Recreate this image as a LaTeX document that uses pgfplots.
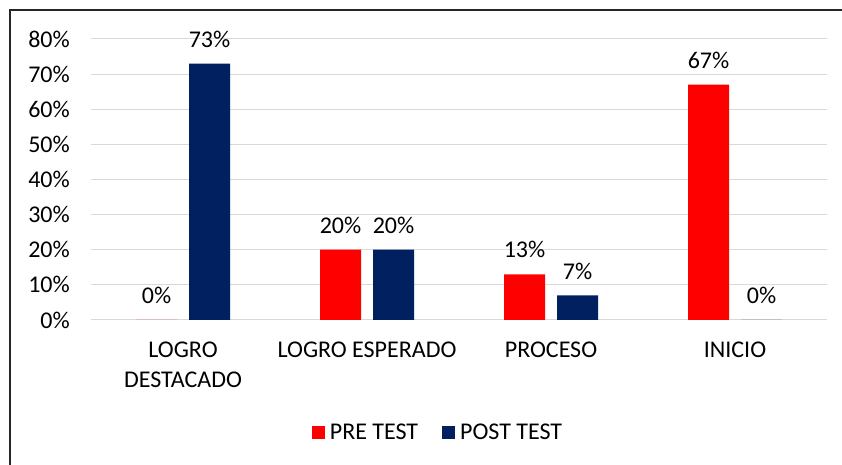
\documentclass[border=0pt]{standalone}
\usepackage{pgfplots}
\pgfplotsset{compat=1.18}
\usepackage{fontspec}
\setmainfont{Carlito}
\definecolor{prered}{HTML}{FF0000}
\definecolor{postblue}{HTML}{002060}
\definecolor{gridgray}{HTML}{D9D9D9}
\begin{document}
\begin{tikzpicture}
\path[use as bounding box] (0,0) rectangle (842pt,465pt);
\draw[line width=1.3pt, black!85] (10pt,0pt) -- (10pt,455pt) -- (842pt,455pt);
\begin{axis}[
  at={(91pt,145pt)}, anchor=south west,
  scale only axis, width=736pt, height=281pt,
  ybar=12pt, bar width=41pt,
  xmin=-0.5, xmax=3.5, ymin=0, ymax=80,
  xtick={0,1,2,3},
  xticklabels={LOGRO\\DESTACADO, LOGRO ESPERADO, PROCESO, INICIO},
  ytick={0,10,...,80},
  yticklabels={0\%,10\%,20\%,30\%,40\%,50\%,60\%,70\%,80\%},
  major tick length=0pt,
  axis line style={draw=none},
  ymajorgrids, major grid style={gridgray, line width=1pt},
  font=\fontsize{24}{30}\selectfont,
  xticklabel style={align=center, anchor=north, inner sep=0pt, yshift=-22pt},
  yticklabel style={anchor=east, inner sep=0pt, xshift=-21pt},
  /pgf/number format/assume math mode=true,
  nodes near coords={\pgfmathprintnumber{\pgfplotspointmeta}\%},
  nodes near coords style={anchor=south, inner sep=0pt, yshift=16pt, black},
  legend columns=2,
  legend style={at={(axis description cs:0.4715,-0.402)}, anchor=center, draw=none, fill=none,
    /tikz/every odd column/.append style={column sep=3pt},
    /tikz/every even column/.append style={column sep=22pt}},
  legend image code/.code={\fill[#1] (0pt,-6.5pt) rectangle (13pt,6.5pt);},
]
\addplot[fill=prered, draw=none] coordinates {(0,0) (1,20) (2,13) (3,67)};
\addplot[fill=postblue, draw=none] coordinates {(0,73) (1,20) (2,7) (3,0)};
\legend{PRE TEST, POST TEST}
\end{axis}
\end{tikzpicture}
\end{document}
